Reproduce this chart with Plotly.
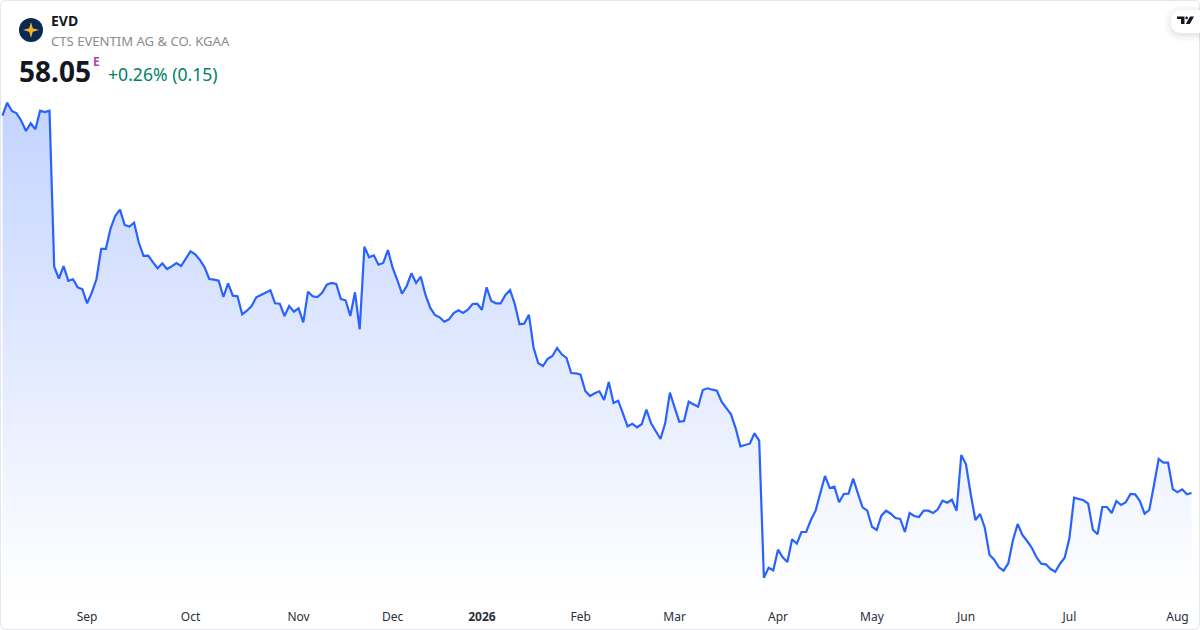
import pandas as pd
import plotly.graph_objects as go

TICKER = "EVD"
COMPANY = "CTS EVENTIM AG & CO. KGAA"
LAST_PRICE = "58.05"
CHANGE = "+0.26% (0.15)"
HOLIDAYS = ["2025-12-24", "2025-12-25", "2025-12-26", "2025-12-31", "2026-01-01",
            "2026-04-03", "2026-04-06", "2026-05-01"]
TICK_DATES = ["2025-09-01", "2025-10-01", "2025-11-03", "2025-12-01", "2026-01-02", "2026-02-02",
              "2026-03-02", "2026-04-01", "2026-05-04", "2026-06-01", "2026-07-01", "2026-08-03"]
TICK_LABELS = ["Sep", "Oct", "Nov", "Dec", "<b>2026</b>", "Feb", "Mar", "Apr", "May", "Jun", "Jul", "Aug"]

prices = [
    95.78, 97.08, 96.25, 96.02, 95.28, 94.25, 95.02, 94.42, 96.28, 96.15, 96.28, 80.68, 79.50, 80.73, 79.27, 79.42,
    78.62, 78.42, 77.02, 78.08, 79.45, 82.47, 82.47, 84.52, 85.77, 86.39, 84.85, 84.70, 85.08, 83.10, 81.77, 81.78,
    81.13, 80.53, 81.02, 80.45, 80.71, 81.05, 80.75, 81.52, 82.22, 81.92, 81.35, 80.62, 79.45, 79.38, 79.28, 77.65,
    79.02, 77.78, 77.72, 75.92, 76.28, 76.75, 77.62, 77.85, 78.05, 78.32, 77.02, 76.98, 75.75, 76.75, 76.18, 76.52,
    75.12, 78.18, 77.72, 77.65, 78.08, 78.88, 79.05, 78.95, 77.45, 77.32, 75.75, 78.12, 74.42, 82.68, 81.62, 81.82,
    80.88, 81.05, 82.35, 80.58, 79.35, 77.98, 78.75, 80.02, 79.05, 79.68, 77.85, 76.58, 75.85, 75.62, 75.18, 75.42,
    76.05, 76.32, 76.05, 76.38, 76.95, 76.98, 76.38, 78.62, 77.25, 77.02, 77.02, 77.85, 78.35, 76.95, 74.93, 74.98,
    75.88, 72.58, 71.02, 70.75, 71.48, 71.75, 72.55, 71.92, 71.55, 70.05, 70.02, 69.88, 68.25, 67.75, 68.02, 68.22,
    67.35, 69.15, 67.05, 67.28, 66.02, 64.72, 64.98, 64.62, 64.92, 66.38, 65.02, 64.18, 63.45, 65.02, 68.08, 66.62,
    65.18, 65.25, 67.18, 66.92, 66.68, 68.35, 68.52, 68.38, 68.28, 67.18, 66.58, 65.92, 64.52, 62.72, 62.85, 62.98,
    64.02, 63.28, 49.58, 50.58, 50.32, 52.38, 51.62, 51.15, 53.42, 52.98, 54.15, 54.15, 55.35, 56.28, 58.02, 59.75,
    58.55, 58.68, 57.12, 57.95, 57.98, 59.48, 58.02, 56.62, 56.28, 54.68, 54.35, 55.78, 56.28, 55.98, 55.55, 55.45,
    54.15, 56.05, 55.75, 55.65, 56.28, 56.28, 56.05, 56.42, 57.28, 57.08, 57.38, 56.28, 61.85, 60.92, 57.95, 55.35,
    55.95, 54.58, 51.88, 51.38, 50.62, 50.28, 51.02, 53.35, 54.95, 53.85, 53.25, 52.58, 51.62, 50.98, 50.92, 50.45,
    50.18, 50.98, 51.58, 53.52, 57.58, 57.48, 57.32, 56.98, 54.38, 53.92, 56.65, 56.65, 56.05, 57.25, 56.85, 57.12,
    57.95, 57.92, 57.25, 55.98, 56.35, 58.85, 61.45, 61.08, 61.08, 58.45, 58.12, 58.42, 57.92, 58.05,
]

dates = [d.strftime("%Y-%m-%d") for d in pd.bdate_range("2025-08-06", "2026-08-06") if d.strftime("%Y-%m-%d") not in HOLIDAYS]
assert len(dates) == len(prices), (len(dates), len(prices))

W, H = 1200, 630
PX = lambda x: x / W
PY = lambda y: 1 - y / H


def path(points):
    return "M " + " L ".join(f"{PX(x):.5f},{PY(y):.5f}" for x, y in points) + " Z"


def rounded(x0, y0, x1, y1, r):
    return (f"M {PX(x0 + r):.5f},{PY(y0):.5f} L {PX(x1 - r):.5f},{PY(y0):.5f} "
            f"Q {PX(x1):.5f},{PY(y0):.5f} {PX(x1):.5f},{PY(y0 + r):.5f} L {PX(x1):.5f},{PY(y1 - r):.5f} "
            f"Q {PX(x1):.5f},{PY(y1):.5f} {PX(x1 - r):.5f},{PY(y1):.5f} L {PX(x0 + r):.5f},{PY(y1):.5f} "
            f"Q {PX(x0):.5f},{PY(y1):.5f} {PX(x0):.5f},{PY(y1 - r):.5f} L {PX(x0):.5f},{PY(y0 + r):.5f} "
            f"Q {PX(x0):.5f},{PY(y0):.5f} {PX(x0 + r):.5f},{PY(y0):.5f} Z")


fig = go.Figure(go.Scatter(
    x=dates, y=prices, mode="lines",
    line=dict(color="#2962FF", width=2.2, shape="linear"),
    fill="tozeroy",
    fillcolor="rgba(41,98,255,0.28)",
    fillgradient=dict(type="vertical", start=97.5, stop=47.5,
                      colorscale=[[0, "rgba(41,98,255,0.28)"], [1, "rgba(41,98,255,0)"]]),
    hoverinfo="skip",
))

shapes = [dict(type="path", xref="paper", yref="paper", path=rounded(0.5, 0.5, 1199.5, 629.5, 6),
               line=dict(color="#E4E6EB", width=1), fillcolor="rgba(0,0,0,0)", layer="above")]
for grow, alpha in [(7, 0.01), (5, 0.014), (3, 0.02), (1, 0.03)]:
    shapes.append(dict(type="path", xref="paper", yref="paper",
                       path=rounded(1171 - grow, 10 - grow + 2, 1214 + grow, 33 + grow + 2, 11 + grow),
                       line=dict(width=0), fillcolor=f"rgba(0,0,0,{alpha})", layer="above"))
shapes.append(dict(type="path", xref="paper", yref="paper", path=rounded(1171, 10, 1214, 33, 11),
                   line=dict(width=0), fillcolor="#FFFFFF", layer="above"))
shapes.append(dict(type="path", xref="paper", yref="paper",
                   path=path([(1177, 16.5), (1184.5, 16.5), (1184.5, 24), (1181, 24), (1181, 19), (1177, 19)]),
                   line=dict(width=0), fillcolor="#131722", layer="above"))
shapes.append(dict(type="circle", xref="paper", yref="paper", x0=PX(1185.3), x1=PX(1187.9), y0=PY(19.2), y1=PY(16.6),
                   line=dict(width=0), fillcolor="#131722", layer="above"))
shapes.append(dict(type="path", xref="paper", yref="paper",
                   path=path([(1190, 16.5), (1194, 16.5), (1189.8, 24), (1185.8, 24)]),
                   line=dict(width=0), fillcolor="#131722", layer="above"))
shapes.append(dict(type="circle", xref="paper", yref="paper", x0=PX(19), x1=PX(43), y0=PY(42), y1=PY(18),
                   line=dict(width=0), fillcolor="#0B2A52", layer="above"))
cx, cy = 31, 30
shapes.append(dict(type="path", xref="paper", yref="paper",
                   path=path([(cx, cy - 8), (cx + 1.8, cy - 1.8), (cx + 8, cy), (cx + 1.8, cy + 1.8),
                              (cx, cy + 8), (cx - 1.8, cy + 1.8), (cx - 8, cy), (cx - 1.8, cy - 1.8)]),
                   line=dict(width=0), fillcolor="#F7B32B", layer="above"))


def label(x, y, text, size, color, bold=False):
    return dict(xref="paper", yref="paper", x=PX(x), y=PY(y), xanchor="left", yanchor="middle",
                text=f"<b>{text}</b>" if bold else text, showarrow=False, align="left",
                xshift=0, yshift=0, borderpad=0, borderwidth=0,
                font=dict(family="Noto Sans", size=size, color=color))


annotations = [
    label(51, 21, TICKER, 14, "#131722", True),
    label(51, 41, COMPANY, 13.1, "#8C8C8C"),
    label(19, 71, LAST_PRICE, 28, "#131722", True),
    label(92.5, 61.5, "E", 12, "#AB47BC", True),
    label(108, 74, CHANGE, 17.6, "#00806A"),
]

fig.update_layout(
    width=W, height=H, margin=dict(l=0, r=0, t=0, b=0),
    paper_bgcolor="#FFFFFF", plot_bgcolor="#FFFFFF", showlegend=False,
    font=dict(family="Noto Sans", size=12, color="#131722"),
    xaxis=dict(type="category", categoryorder="array", categoryarray=dates,
               range=[-0.532, 254.79], tickmode="array", tickvals=TICK_DATES, ticktext=TICK_LABELS,
               showgrid=False, zeroline=False, showline=False, ticks="", ticklabelstandoff=8,
               tickfont=dict(family="Noto Sans", size=12, color="#2A2E39"), fixedrange=True),
    yaxis=dict(domain=[30 / H, 1], range=[47.35, 107.35], visible=False, showgrid=False, zeroline=False,
               fixedrange=True),
    shapes=shapes, annotations=annotations,
)

fig.write_html("out.html", config=dict(displayModeBar=False),
               post_script="document.body.style.margin='0';document.body.style.overflow='hidden';")
